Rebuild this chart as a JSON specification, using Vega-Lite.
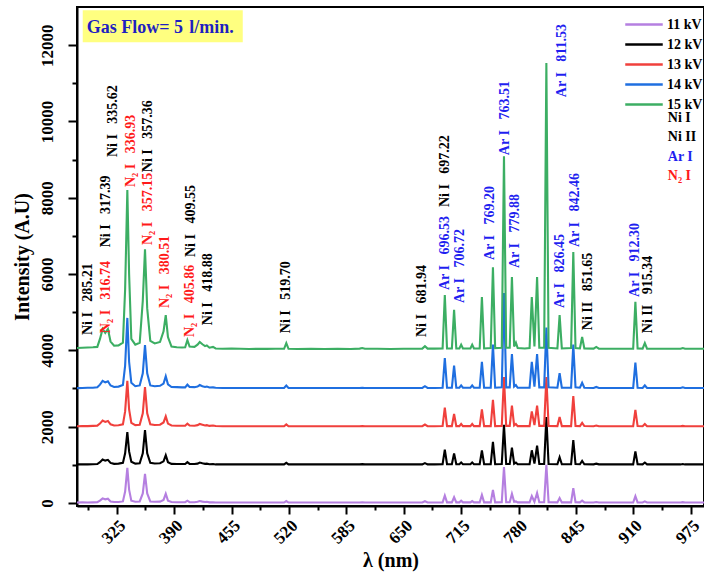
{
  "$schema": "https://vega.github.io/schema/vega-lite/v6.json",
  "width": 627,
  "height": 499,
  "autosize": {"type": "none"},
  "padding": {"left": 77, "top": 7, "right": 0, "bottom": 72},
  "background": "white",
  "config": {
    "view": {"stroke": "black", "strokeWidth": 2},
    "font": "Liberation Serif",
    "axis": {"grid": false}
  },
  "resolve": {"scale": {"color": "independent"}, "axis": {"x": "independent", "y": "independent"}},
  "datasets": {
    "spec": [
      {"x":280,"11 kV":10,"12 kV":1010,"13 kV":2010,"14 kV":3010,"15 kV":4060},
      {"x":286,"11 kV":15,"12 kV":1015,"13 kV":2015,"14 kV":3015,"15 kV":4070},
      {"x":292,"11 kV":12,"12 kV":1012,"13 kV":2015,"14 kV":3020,"15 kV":4075},
      {"x":298,"11 kV":15,"12 kV":1015,"13 kV":2020,"14 kV":3020,"15 kV":4080},
      {"x":303,"11 kV":20,"12 kV":1020,"13 kV":2025,"14 kV":3030,"15 kV":4090},
      {"x":306,"11 kV":60,"12 kV":1070,"13 kV":2080,"14 kV":3100,"15 kV":4300},
      {"x":309,"11 kV":120,"12 kV":1140,"13 kV":2160,"14 kV":3200,"15 kV":4560},
      {"x":312,"11 kV":95,"12 kV":1110,"13 kV":2125,"14 kV":3160,"15 kV":4460},
      {"x":315,"11 kV":110,"12 kV":1130,"13 kV":2150,"14 kV":3190,"15 kV":4560},
      {"x":318,"11 kV":40,"12 kV":1050,"13 kV":2060,"14 kV":3080,"15 kV":4230},
      {"x":322,"11 kV":25,"12 kV":1025,"13 kV":2030,"14 kV":3040,"15 kV":4120},
      {"x":327,"11 kV":25,"12 kV":1030,"13 kV":2035,"14 kV":3050,"15 kV":4130},
      {"x":332,"11 kV":40,"12 kV":1050,"13 kV":2060,"14 kV":3090,"15 kV":4200},
      {"x":334.5,"11 kV":300,"12 kV":1300,"13 kV":2400,"14 kV":3600,"15 kV":5600},
      {"x":337,"11 kV":920,"12 kV":1860,"13 kV":3200,"14 kV":4850,"15 kV":8200},
      {"x":339,"11 kV":350,"12 kV":1350,"13 kV":2450,"14 kV":3700,"15 kV":6000},
      {"x":341.5,"11 kV":60,"12 kV":1080,"13 kV":2100,"14 kV":3150,"15 kV":4300},
      {"x":346,"11 kV":30,"12 kV":1030,"13 kV":2040,"14 kV":3060,"15 kV":4150},
      {"x":351,"11 kV":40,"12 kV":1040,"13 kV":2050,"14 kV":3080,"15 kV":4200},
      {"x":354.5,"11 kV":250,"12 kV":1300,"13 kV":2350,"14 kV":3400,"15 kV":5300},
      {"x":357,"11 kV":760,"12 kV":1910,"13 kV":3040,"14 kV":4140,"15 kV":6650},
      {"x":359.5,"11 kV":250,"12 kV":1300,"13 kV":2350,"14 kV":3400,"15 kV":5100},
      {"x":363,"11 kV":40,"12 kV":1050,"13 kV":2060,"14 kV":3080,"15 kV":4250},
      {"x":368,"11 kV":30,"12 kV":1035,"13 kV":2045,"14 kV":3060,"15 kV":4180},
      {"x":374,"11 kV":35,"12 kV":1040,"13 kV":2050,"14 kV":3070,"15 kV":4220},
      {"x":378,"11 kV":80,"12 kV":1090,"13 kV":2110,"14 kV":3130,"15 kV":4500},
      {"x":380.5,"11 kV":240,"12 kV":1250,"13 kV":2270,"14 kV":3320,"15 kV":4925},
      {"x":383,"11 kV":60,"12 kV":1070,"13 kV":2080,"14 kV":3110,"15 kV":4350},
      {"x":387,"11 kV":25,"12 kV":1025,"13 kV":2030,"14 kV":3040,"15 kV":4100},
      {"x":393,"11 kV":20,"12 kV":1020,"13 kV":2025,"14 kV":3035,"15 kV":4080},
      {"x":399,"11 kV":20,"12 kV":1020,"13 kV":2025,"14 kV":3030,"15 kV":4075},
      {"x":402.5,"11 kV":20,"12 kV":1020,"13 kV":2025,"14 kV":3030,"15 kV":4080},
      {"x":405,"11 kV":60,"12 kV":1070,"13 kV":2080,"14 kV":3100,"15 kV":4270},
      {"x":407.5,"11 kV":20,"12 kV":1025,"13 kV":2030,"14 kV":3040,"15 kV":4100},
      {"x":413,"11 kV":20,"12 kV":1020,"13 kV":2025,"14 kV":3035,"15 kV":4090},
      {"x":416.5,"11 kV":30,"12 kV":1030,"13 kV":2040,"14 kV":3050,"15 kV":4150},
      {"x":419,"11 kV":50,"12 kV":1060,"13 kV":2070,"14 kV":3090,"15 kV":4220},
      {"x":422,"11 kV":35,"12 kV":1040,"13 kV":2050,"14 kV":3060,"15 kV":4160},
      {"x":425,"11 kV":25,"12 kV":1025,"13 kV":2030,"14 kV":3040,"15 kV":4110},
      {"x":427,"11 kV":30,"12 kV":1030,"13 kV":2040,"14 kV":3050,"15 kV":4130},
      {"x":430,"11 kV":15,"12 kV":1015,"13 kV":2020,"14 kV":3025,"15 kV":4070},
      {"x":434,"11 kV":20,"12 kV":1020,"13 kV":2030,"14 kV":3030,"15 kV":4090},
      {"x":437,"11 kV":10,"12 kV":1010,"13 kV":2015,"14 kV":3020,"15 kV":4050},
      {"x":445,"11 kV":12,"12 kV":1012,"13 kV":2012,"14 kV":3015,"15 kV":4040},
      {"x":455,"11 kV":10,"12 kV":1010,"13 kV":2010,"14 kV":3015,"15 kV":4045},
      {"x":465,"11 kV":12,"12 kV":1012,"13 kV":2012,"14 kV":3015,"15 kV":4040},
      {"x":475,"11 kV":10,"12 kV":1010,"13 kV":2010,"14 kV":3012,"15 kV":4035},
      {"x":485,"11 kV":12,"12 kV":1012,"13 kV":2012,"14 kV":3015,"15 kV":4040},
      {"x":495,"11 kV":10,"12 kV":1010,"13 kV":2010,"14 kV":3012,"15 kV":4038},
      {"x":505,"11 kV":12,"12 kV":1012,"13 kV":2012,"14 kV":3015,"15 kV":4040},
      {"x":514.5,"11 kV":10,"12 kV":1010,"13 kV":2010,"14 kV":3012,"15 kV":4040},
      {"x":517,"11 kV":50,"12 kV":1050,"13 kV":2060,"14 kV":3075,"15 kV":4190},
      {"x":519.5,"11 kV":10,"12 kV":1010,"13 kV":2010,"14 kV":3012,"15 kV":4040},
      {"x":530,"11 kV":10,"12 kV":1010,"13 kV":2010,"14 kV":3012,"15 kV":4035},
      {"x":545,"11 kV":12,"12 kV":1012,"13 kV":2012,"14 kV":3015,"15 kV":4040},
      {"x":560,"11 kV":10,"12 kV":1010,"13 kV":2010,"14 kV":3012,"15 kV":4035},
      {"x":575,"11 kV":12,"12 kV":1012,"13 kV":2012,"14 kV":3015,"15 kV":4040},
      {"x":590,"11 kV":10,"12 kV":1010,"13 kV":2010,"14 kV":3012,"15 kV":4035},
      {"x":600,"11 kV":12,"12 kV":1012,"13 kV":2012,"14 kV":3015,"15 kV":4045},
      {"x":603,"11 kV":18,"12 kV":1018,"13 kV":2018,"14 kV":3020,"15 kV":4060},
      {"x":606,"11 kV":10,"12 kV":1010,"13 kV":2010,"14 kV":3012,"15 kV":4040},
      {"x":620,"11 kV":12,"12 kV":1012,"13 kV":2012,"14 kV":3015,"15 kV":4040},
      {"x":635,"11 kV":10,"12 kV":1010,"13 kV":2010,"14 kV":3012,"15 kV":4035},
      {"x":650,"11 kV":12,"12 kV":1012,"13 kV":2012,"14 kV":3015,"15 kV":4040},
      {"x":662,"11 kV":10,"12 kV":1010,"13 kV":2010,"14 kV":3012,"15 kV":4040},
      {"x":671,"11 kV":12,"12 kV":1012,"13 kV":2012,"14 kV":3015,"15 kV":4045},
      {"x":674,"11 kV":45,"12 kV":1045,"13 kV":2055,"14 kV":3060,"15 kV":4110},
      {"x":677,"11 kV":12,"12 kV":1012,"13 kV":2012,"14 kV":3015,"15 kV":4045},
      {"x":685,"11 kV":12,"12 kV":1012,"13 kV":2012,"14 kV":3015,"15 kV":4045},
      {"x":694,"11 kV":15,"12 kV":1015,"13 kV":2015,"14 kV":3018,"15 kV":4050},
      {"x":696.5,"11 kV":190,"12 kV":1400,"13 kV":2500,"14 kV":3800,"15 kV":5450},
      {"x":699,"11 kV":15,"12 kV":1015,"13 kV":2015,"14 kV":3020,"15 kV":4050},
      {"x":704.5,"11 kV":15,"12 kV":1015,"13 kV":2015,"14 kV":3020,"15 kV":4050},
      {"x":707,"11 kV":150,"12 kV":1300,"13 kV":2330,"14 kV":3600,"15 kV":5060},
      {"x":709.5,"11 kV":15,"12 kV":1015,"13 kV":2015,"14 kV":3020,"15 kV":4050},
      {"x":713,"11 kV":15,"12 kV":1015,"13 kV":2015,"14 kV":3020,"15 kV":4050},
      {"x":715,"11 kV":60,"12 kV":1060,"13 kV":2070,"14 kV":3080,"15 kV":4150},
      {"x":717,"11 kV":15,"12 kV":1015,"13 kV":2015,"14 kV":3020,"15 kV":4050},
      {"x":725.5,"11 kV":15,"12 kV":1015,"13 kV":2015,"14 kV":3020,"15 kV":4050},
      {"x":727.5,"11 kV":50,"12 kV":1060,"13 kV":2070,"14 kV":3080,"15 kV":4150},
      {"x":729.5,"11 kV":15,"12 kV":1015,"13 kV":2015,"14 kV":3020,"15 kV":4050},
      {"x":736,"11 kV":15,"12 kV":1015,"13 kV":2015,"14 kV":3020,"15 kV":4050},
      {"x":738.5,"11 kV":210,"12 kV":1380,"13 kV":2450,"14 kV":3700,"15 kV":5400},
      {"x":741,"11 kV":15,"12 kV":1015,"13 kV":2015,"14 kV":3020,"15 kV":4050},
      {"x":748.5,"11 kV":15,"12 kV":1015,"13 kV":2015,"14 kV":3020,"15 kV":4060},
      {"x":751,"11 kV":340,"12 kV":1600,"13 kV":2700,"14 kV":4150,"15 kV":6180},
      {"x":753.5,"11 kV":15,"12 kV":1015,"13 kV":2015,"14 kV":3020,"15 kV":4060},
      {"x":761,"11 kV":20,"12 kV":1020,"13 kV":2020,"14 kV":3030,"15 kV":4070},
      {"x":763.5,"11 kV":940,"12 kV":2050,"13 kV":3300,"14 kV":5500,"15 kV":9090},
      {"x":766,"11 kV":20,"12 kV":1020,"13 kV":2020,"14 kV":3030,"15 kV":4070},
      {"x":770,"11 kV":20,"12 kV":1020,"13 kV":2020,"14 kV":3030,"15 kV":4070},
      {"x":772.5,"11 kV":240,"12 kV":1450,"13 kV":2550,"14 kV":3900,"15 kV":5920},
      {"x":775,"11 kV":30,"12 kV":1030,"13 kV":2030,"14 kV":3050,"15 kV":4100},
      {"x":777,"11 kV":40,"12 kV":1060,"13 kV":2070,"14 kV":3090,"15 kV":4200},
      {"x":779,"11 kV":15,"12 kV":1015,"13 kV":2015,"14 kV":3020,"15 kV":4060},
      {"x":787,"11 kV":15,"12 kV":1015,"13 kV":2015,"14 kV":3020,"15 kV":4050},
      {"x":792.5,"11 kV":15,"12 kV":1015,"13 kV":2015,"14 kV":3020,"15 kV":4060},
      {"x":795,"11 kV":180,"12 kV":1380,"13 kV":2400,"14 kV":3700,"15 kV":5400},
      {"x":798,"11 kV":30,"12 kV":1030,"13 kV":2040,"14 kV":3050,"15 kV":4100},
      {"x":801,"11 kV":260,"12 kV":1500,"13 kV":2550,"14 kV":3900,"15 kV":5920},
      {"x":803.5,"11 kV":20,"12 kV":1020,"13 kV":2020,"14 kV":3030,"15 kV":4070},
      {"x":809,"11 kV":20,"12 kV":1020,"13 kV":2020,"14 kV":3030,"15 kV":4070},
      {"x":811.5,"11 kV":1000,"12 kV":2250,"13 kV":3300,"14 kV":4600,"15 kV":11530},
      {"x":814,"11 kV":20,"12 kV":1020,"13 kV":2020,"14 kV":3030,"15 kV":4070},
      {"x":824,"11 kV":15,"12 kV":1015,"13 kV":2015,"14 kV":3020,"15 kV":4050},
      {"x":826.5,"11 kV":130,"12 kV":1200,"13 kV":2250,"14 kV":3400,"15 kV":4925},
      {"x":829,"11 kV":15,"12 kV":1015,"13 kV":2015,"14 kV":3020,"15 kV":4050},
      {"x":839.5,"11 kV":15,"12 kV":1015,"13 kV":2015,"14 kV":3020,"15 kV":4060},
      {"x":842,"11 kV":390,"12 kV":1650,"13 kV":2800,"14 kV":4150,"15 kV":6576},
      {"x":844.5,"11 kV":20,"12 kV":1020,"13 kV":2020,"14 kV":3030,"15 kV":4060},
      {"x":849.5,"11 kV":15,"12 kV":1015,"13 kV":2015,"14 kV":3020,"15 kV":4050},
      {"x":852,"11 kV":60,"12 kV":1100,"13 kV":2100,"14 kV":3150,"15 kV":4350},
      {"x":854.5,"11 kV":15,"12 kV":1015,"13 kV":2015,"14 kV":3020,"15 kV":4050},
      {"x":865,"11 kV":12,"12 kV":1012,"13 kV":2012,"14 kV":3015,"15 kV":4045},
      {"x":868,"11 kV":25,"12 kV":1030,"13 kV":2030,"14 kV":3040,"15 kV":4090},
      {"x":871,"11 kV":12,"12 kV":1012,"13 kV":2012,"14 kV":3015,"15 kV":4045},
      {"x":880,"11 kV":10,"12 kV":1010,"13 kV":2010,"14 kV":3012,"15 kV":4040},
      {"x":895,"11 kV":12,"12 kV":1012,"13 kV":2012,"14 kV":3015,"15 kV":4040},
      {"x":909.8,"11 kV":12,"12 kV":1012,"13 kV":2012,"14 kV":3015,"15 kV":4040},
      {"x":912.3,"11 kV":180,"12 kV":1350,"13 kV":2440,"14 kV":3680,"15 kV":5270},
      {"x":914.8,"11 kV":15,"12 kV":1015,"13 kV":2015,"14 kV":3020,"15 kV":4050},
      {"x":920.5,"11 kV":12,"12 kV":1012,"13 kV":2012,"14 kV":3015,"15 kV":4045},
      {"x":923,"11 kV":40,"12 kV":1060,"13 kV":2070,"14 kV":3080,"15 kV":4190},
      {"x":925.5,"11 kV":12,"12 kV":1012,"13 kV":2012,"14 kV":3015,"15 kV":4045},
      {"x":940,"11 kV":10,"12 kV":1010,"13 kV":2010,"14 kV":3012,"15 kV":4040},
      {"x":955,"11 kV":12,"12 kV":1012,"13 kV":2012,"14 kV":3015,"15 kV":4040},
      {"x":963.5,"11 kV":10,"12 kV":1010,"13 kV":2010,"14 kV":3012,"15 kV":4040},
      {"x":966,"11 kV":20,"12 kV":1020,"13 kV":2020,"14 kV":3030,"15 kV":4060},
      {"x":968.5,"11 kV":10,"12 kV":1010,"13 kV":2010,"14 kV":3012,"15 kV":4040},
      {"x":980,"11 kV":12,"12 kV":1012,"13 kV":2012,"14 kV":3015,"15 kV":4040},
      {"x":990,"11 kV":10,"12 kV":1010,"13 kV":2010,"14 kV":3012,"15 kV":4040}
    ],
    "labels": [
      {"x":292.2,"y":4400,"t":"Ni I\u00a0\u00a0 285.21","c":"Ni"},
      {"x":313,"y":4450,"t":"N\u2082 I\u00a0\u00a0 316.74","c":"N2"},
      {"x":313,"y":6700,"t":"Ni I\u00a0\u00a0 317.39","c":"Ni"},
      {"x":320.8,"y":9065,"t":"Ni I\u00a0\u00a0 335.62","c":"Ni"},
      {"x":341.6,"y":8280,"t":"N\u2082 I\u00a0\u00a0 336.93","c":"N2"},
      {"x":360.5,"y":8670,"t":"Ni I\u00a0\u00a0 357.36","c":"Ni"},
      {"x":360.5,"y":6760,"t":"N\u2082 I\u00a0\u00a0 357.15","c":"N2"},
      {"x":379.4,"y":5110,"t":"N\u2082 I\u00a0\u00a0 380.51","c":"N2"},
      {"x":407.7,"y":4350,"t":"N\u2082 I\u00a0\u00a0 405.86","c":"N2"},
      {"x":409.5,"y":6445,"t":"Ni I\u00a0\u00a0 409.55","c":"Ni"},
      {"x":428.4,"y":4660,"t":"Ni I\u00a0\u00a0 418.88","c":"Ni"},
      {"x":517,"y":4450,"t":"Ni I\u00a0\u00a0 519.70","c":"Ni"},
      {"x":671.2,"y":4350,"t":"Ni I\u00a0\u00a0 681.94","c":"Ni"},
      {"x":696.4,"y":5580,"t":"Ar I\u00a0\u00a0 696.53","c":"Ar"},
      {"x":696.4,"y":7755,"t":"Ni I\u00a0\u00a0 697.22","c":"Ni"},
      {"x":713.4,"y":5240,"t":"Ar I\u00a0\u00a0 706.72","c":"Ar"},
      {"x":747.4,"y":6366,"t":"Ar I\u00a0\u00a0 769.20","c":"Ar"},
      {"x":764.4,"y":9117,"t":"Ar I\u00a0\u00a0 763.51","c":"Ar"},
      {"x":775.7,"y":6157,"t":"Ar I\u00a0\u00a0 779.88","c":"Ar"},
      {"x":829.6,"y":10637,"t":"Ar I\u00a0\u00a0 811.53","c":"Ar"},
      {"x":826.6,"y":5110,"t":"Ar I\u00a0\u00a0 826.45","c":"Ar"},
      {"x":843.6,"y":6707,"t":"Ar I\u00a0\u00a0 842.46","c":"Ar"},
      {"x":858.7,"y":4530,"t":"Ni II\u00a0\u00a0 851.65","c":"Ni"},
      {"x":911.6,"y":5400,"t":"Ar I\u00a0\u00a0 912.30","c":"Ar"},
      {"x":926.7,"y":4450,"t":"Ni II\u00a0\u00a0 915.34","c":"Ni"}
    ],
    "keytext": [
      {"x":949,"y":10087,"t":"Ni I","c":"Ni"},
      {"x":949,"y":9589,"t":"Ni II","c":"Ni"},
      {"x":949,"y":9065,"t":"Ar I","c":"Ar"},
      {"x":949,"y":8567,"t":"N\u2082 I","c":"N2"}
    ],
    "box": [
      {"x":286.5,"x2":467.7,"y":12077,"y2":12916}
    ],
    "boxtext": [
      {"x":291,"y":12313,"t":"Gas Flow= 5","s":"normal"},
      {"x":407,"y":12313,"t":"l/min.","s":"italic"}
    ]
  },
  "layer": [
    {
      "data": {"name": "box"},
      "mark": {"type": "rect", "fill": "#ffff80"},
      "encoding": {
        "x": {"field": "x", "type": "quantitative", "scale": {"domain": [280, 990], "nice": false, "zero": false}, "title": "λ (nm)",
          "axis": {
            "orient": "bottom",
            "values": [325, 390, 455, 520, 585, 650, 715, 780, 845, 910, 975],
            "format": "d",
            "labelOverlap": false,
            "labelAngle": -45,
            "labelFont": "Liberation Serif", "labelFontWeight": "bold", "labelFontSize": 17, "labelColor": "black",
            "titleFont": "Liberation Serif", "titleFontWeight": "bold", "titleFontSize": 20, "titleColor": "black",
            "tickSize": 8, "tickWidth": 2, "tickColor": "black", "domainColor": "black", "domainWidth": 2,
            "grid": false, "labelPadding": 3, "titlePadding": 4
          }},
        "x2": {"field": "x2"},
        "y": {"field": "y", "type": "quantitative", "scale": {"domain": [-80, 13000], "nice": false, "zero": false}, "title": "Intensity (A.U)",
          "axis": {
            "orient": "left",
            "values": [0, 2000, 4000, 6000, 8000, 10000, 12000],
            "format": "d",
            "labelOverlap": false,
            "labelAngle": -90,
            "labelFont": "Liberation Serif", "labelFontWeight": "bold", "labelFontSize": 17, "labelColor": "black",
            "titleFont": "Liberation Serif", "titleFontWeight": "bold", "titleFontSize": 20, "titleColor": "black",
            "tickSize": 9, "tickWidth": 2, "tickColor": "black", "domainColor": "black", "domainWidth": 2,
            "grid": false, "labelPadding": 12, "titlePadding": 6
          }},
        "y2": {"field": "y2"}
      }
    },
    {
      "data": {"name": "spec"},
      "transform": [{"fold": ["11 kV", "12 kV", "13 kV", "14 kV", "15 kV"], "as": ["kv", "I"]}],
      "mark": {"type": "line", "strokeWidth": 2.1, "clip": true},
      "encoding": {
        "x": {"field": "x", "type": "quantitative", "axis": {"orient": "bottom", "values": [292.5, 357.5, 422.5, 487.5, 552.5, 617.5, 682.5, 747.5, 812.5, 877.5, 942.5], "labels": false, "title": null, "domain": false, "tickSize": 4, "tickWidth": 2, "tickColor": "black", "grid": false}},
        "y": {"field": "I", "type": "quantitative", "axis": {"orient": "left", "values": [1000, 3000, 5000, 7000, 9000, 11000], "labels": false, "title": null, "domain": false, "tickSize": 5, "tickWidth": 2, "tickColor": "black", "grid": false}},
        "color": {
          "field": "kv", "type": "nominal",
          "scale": {"domain": ["11 kV", "12 kV", "13 kV", "14 kV", "15 kV"], "range": ["#b57fe0", "#000000", "#f0403c", "#1f6fe0", "#3cae63"]},
          "legend": {
            "orient": "none", "legendX": 558, "legendY": 8.5, "title": null,
            "symbolType": "M-2.5,0H2.5", "symbolStrokeWidth": 2.5, "symbolSize": 225, "symbolFillColor": "transparent",
            "labelFont": "Liberation Serif", "labelFontWeight": "bold", "labelFontSize": 14, "labelColor": "black",
            "labelOffset": 14, "rowPadding": 4
          }
        }
      }
    },
    {
      "data": {"name": "labels"},
      "transform": [{"filter": "datum.c == 'Ni'"}],
      "mark": {"type": "text", "angle": 270, "align": "left", "baseline": "middle", "font": "Liberation Serif", "fontWeight": "bold", "fontSize": 14, "color": "black"},
      "encoding": {"x": {"field": "x", "type": "quantitative", "axis": null}, "y": {"field": "y", "type": "quantitative", "axis": null}, "text": {"field": "t"}}
    },
    {
      "data": {"name": "labels"},
      "transform": [{"filter": "datum.c == 'N2'"}],
      "mark": {"type": "text", "angle": 270, "align": "left", "baseline": "middle", "font": "Liberation Serif", "fontWeight": "bold", "fontSize": 14, "color": "#ff1a1a"},
      "encoding": {"x": {"field": "x", "type": "quantitative", "axis": null}, "y": {"field": "y", "type": "quantitative", "axis": null}, "text": {"field": "t"}}
    },
    {
      "data": {"name": "labels"},
      "transform": [{"filter": "datum.c == 'Ar'"}],
      "mark": {"type": "text", "angle": 270, "align": "left", "baseline": "middle", "font": "Liberation Serif", "fontWeight": "bold", "fontSize": 14, "color": "#1f1ff0"},
      "encoding": {"x": {"field": "x", "type": "quantitative", "axis": null}, "y": {"field": "y", "type": "quantitative", "axis": null}, "text": {"field": "t"}}
    },
    {
      "data": {"name": "keytext"},
      "mark": {"type": "text", "align": "left", "baseline": "middle", "font": "Liberation Serif", "fontWeight": "bold", "fontSize": 14},
      "encoding": {
        "x": {"field": "x", "type": "quantitative", "axis": null},
        "y": {"field": "y", "type": "quantitative", "axis": null},
        "text": {"field": "t"},
        "color": {"field": "c", "type": "nominal", "scale": {"domain": ["Ni", "Ar", "N2"], "range": ["#000000", "#1f1ff0", "#ff1a1a"]}, "legend": null}
      }
    },
    {
      "data": {"name": "boxtext"},
      "mark": {"type": "text", "align": "left", "baseline": "alphabetic", "font": "Liberation Serif", "fontWeight": "bold", "fontSize": 18, "color": "#1f1fc0"},
      "encoding": {
        "x": {"field": "x", "type": "quantitative", "axis": null},
        "y": {"field": "y", "type": "quantitative", "axis": null},
        "text": {"field": "t"},
        "fontStyle": {"field": "s", "type": "nominal", "scale": null}
      }
    }
  ]
}
